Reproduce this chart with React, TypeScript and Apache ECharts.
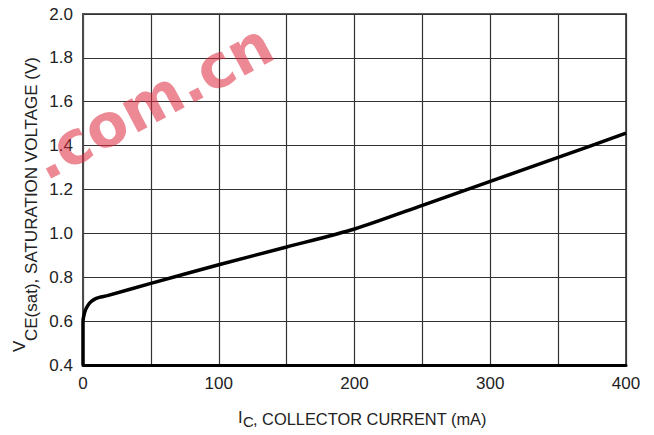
import React, { useEffect, useRef } from "react";
import * as echarts from "echarts";

// Collector current (mA) and saturation voltage (V)
const currentMA: number[] = [0, 0, 1, 2.5, 5, 8, 12, 18, 50, 100, 150, 200, 250, 300, 350, 400];
const vceSat: number[] = [0.4, 0.6, 0.635, 0.66, 0.683, 0.698, 0.708, 0.716, 0.772, 0.857, 0.938, 1.02, 1.128, 1.237, 1.346, 1.457];

const xTicks: number[] = [0, 100, 200, 300, 400];
const yTicks: number[] = [0.4, 0.6, 0.8, 1.0, 1.2, 1.4, 1.6, 1.8, 2.0];

const FONT = "'Liberation Sans', Arial, sans-serif";

export default function App() {
  const ref = useRef<HTMLDivElement>(null);

  useEffect(() => {
    if (!ref.current) return;
    const chart = echarts.init(ref.current, undefined, { renderer: "svg" });
    const data = currentMA.map((x, i) => [x, vceSat[i]]);
    chart.setOption({
      animation: false,
      backgroundColor: "#ffffff",
      grid: {
        left: 83,
        top: 14,
        right: 28,
        bottom: 70,
        show: true,
        borderColor: "#5a5a5a",
        borderWidth: 2,
        containLabel: false,
      },
      xAxis: {
        type: "value",
        min: 0,
        max: 400,
        interval: 50,
        axisLine: { show: true, onZero: false, lineStyle: { color: "#000", width: 3 } },
        axisTick: { show: false },
        splitLine: { show: true, lineStyle: { color: "#333", width: 1.2 } },
        axisLabel: {
          margin: 10,
          color: "#222",
          fontSize: 17,
          fontFamily: FONT,
          formatter: (v: number) => (xTicks.includes(Math.round(v)) ? String(Math.round(v)) : ""),
        },
      },
      yAxis: {
        type: "value",
        min: 0.4,
        max: 2.0,
        interval: 0.2,
        axisLine: { show: true, onZero: false, lineStyle: { color: "#4a4a4a", width: 2 } },
        axisTick: { show: false },
        splitLine: { show: true, lineStyle: { color: "#333", width: 1.2 } },
        axisLabel: {
          margin: 10,
          color: "#222",
          fontSize: 17,
          fontFamily: FONT,
          formatter: (v: number) => {
            const t = yTicks.find((y) => Math.abs(y - v) < 1e-6);
            return t === undefined ? "" : t.toFixed(1);
          },
        },
      },
      series: [
        {
          type: "line",
          data,
          showSymbol: false,
          smooth: 0.25,
          lineStyle: { color: "#000", width: 3.5 },
          z: 5,
        },
      ],
      graphic: [
        // x axis title
        { type: "text", x: 238, y: 417, style: { text: "I", fontSize: 16.4, fontFamily: FONT, fill: "#222", align: "left", verticalAlign: "middle" } },
        { type: "text", x: 243, y: 421, style: { text: "C", fontSize: 15, fontFamily: FONT, fill: "#222", align: "left", verticalAlign: "middle" } },
        { type: "text", x: 253, y: 419, style: { text: ", COLLECTOR CURRENT (mA)", fontSize: 16.4, fontFamily: FONT, fill: "#222", align: "left", verticalAlign: "middle" } },
        // y axis title (rotated)
        { type: "text", x: 19, y: 352, rotation: Math.PI / 2, style: { text: "V", fontSize: 17, fontFamily: FONT, fill: "#222", align: "left", verticalAlign: "middle" } },
        { type: "text", x: 31.5, y: 341, rotation: Math.PI / 2, style: { text: "CE(sat), SATURATION VOLTAGE (V)", fontSize: 17, fontFamily: FONT, fill: "#222", align: "left", verticalAlign: "middle" } },
        // watermark
        {
          type: "text",
          x: 152,
          y: 101,
          rotation: 0.49,
          z: 100,
          style: {
            text: ".com.cn",
            fontSize: 60,
            fontWeight: "bold",
            fontFamily: "'DejaVu Sans', sans-serif",
            fill: "rgba(220,40,60,0.55)",
            align: "center",
            verticalAlign: "middle",
          },
        },
      ],
    });
    return () => chart.dispose();
  }, []);

  return (
    <div
      ref={ref}
      style={{ position: "fixed", left: 0, top: 0, width: 654, height: 435 }}
    />
  );
}
